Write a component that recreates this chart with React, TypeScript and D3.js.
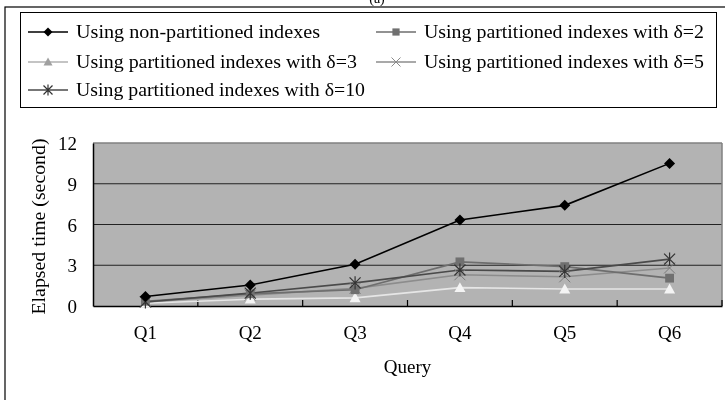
import { useEffect, useRef } from 'react';
import * as d3 from 'd3';

const queries = ['Q1', 'Q2', 'Q3', 'Q4', 'Q5', 'Q6'];
const yTicks = [0, 3, 6, 9, 12];

const nonPartitioned = [0.7, 1.55, 3.07, 6.33, 7.41, 10.5];
const delta2 = [0.35, 0.9, 1.2, 3.25, 2.9, 2.05];
const delta3 = [0.2, 0.5, 0.6, 1.35, 1.25, 1.25];
const delta5 = [0.3, 0.8, 1.3, 2.3, 2.15, 2.8];
const delta10 = [0.3, 0.95, 1.7, 2.65, 2.55, 3.45];

const seriesNames = [
  'Using non-partitioned indexes',
  'Using partitioned indexes with \u03b4=2',
  'Using partitioned indexes with \u03b4=3',
  'Using partitioned indexes with \u03b4=5',
  'Using partitioned indexes with \u03b4=10',
];

type Marker = 'diamond' | 'square' | 'triangle' | 'cross' | 'star';

interface Series {
  name: string;
  values: number[];
  line: string;
  marker: Marker;
  fill: string;
  legendFill: string;
}

const series: Series[] = [
  { name: seriesNames[0], values: nonPartitioned, line: '#000', marker: 'diamond', fill: '#000', legendFill: '#000' },
  { name: seriesNames[1], values: delta2, line: '#6e6e6e', marker: 'square', fill: '#707070', legendFill: '#707070' },
  { name: seriesNames[2], values: delta3, line: '#e6e6e6', marker: 'triangle', fill: '#f4f4f4', legendFill: '#a0a0a0' },
  { name: seriesNames[3], values: delta5, line: '#8c8c8c', marker: 'cross', fill: '#7a7a7a', legendFill: '#8a8a8a' },
  { name: seriesNames[4], values: delta10, line: '#4a4a4a', marker: 'star', fill: '#333', legendFill: '#333' },
];

const FONT = '"Liberation Serif", "Times New Roman", serif';

function drawMarker(
  g: d3.Selection<SVGGElement, unknown, null, undefined>,
  kind: Marker,
  x: number,
  y: number,
  fill: string,
  scale = 1
) {
  const s = 5 * scale;
  if (kind === 'diamond') {
    g.append('path')
      .attr('d', `M${x},${y - s}L${x + s},${y}L${x},${y + s}L${x - s},${y}Z`)
      .attr('fill', fill);
  } else if (kind === 'square') {
    const h = 4 * scale;
    g.append('rect')
      .attr('x', x - h).attr('y', y - h)
      .attr('width', 2 * h).attr('height', 2 * h)
      .attr('fill', fill);
  } else if (kind === 'triangle') {
    g.append('path')
      .attr('d', `M${x},${y - s}L${x + s},${y + s * 0.8}L${x - s},${y + s * 0.8}Z`)
      .attr('fill', fill);
  } else if (kind === 'cross') {
    g.append('path')
      .attr('d', `M${x - s},${y - s}L${x + s},${y + s}M${x - s},${y + s}L${x + s},${y - s}`)
      .attr('stroke', fill).attr('stroke-width', 1);
  } else {
    g.append('path')
      .attr('d', `M${x - s},${y - s}L${x + s},${y + s}M${x - s},${y + s}L${x + s},${y - s}M${x},${y - s * 1.2}L${x},${y + s * 1.2}`)
      .attr('stroke', fill).attr('stroke-width', 1.2);
  }
}

export default function App() {
  const svgRef = useRef<SVGSVGElement>(null);

  useEffect(() => {
    if (!svgRef.current) return;
    const svg = d3.select(svgRef.current);
    svg.selectAll('*').remove();

    const left = 93, right = 722, top = 143, bottom = 306;

    // outer frame
    svg.append('rect')
      .attr('x', 5).attr('y', 7).attr('width', 740).attr('height', 420)
      .attr('fill', '#fff').attr('stroke', '#000').attr('stroke-width', 1.2);

    // caption, mostly above the frame as in the source
    svg.append('text')
      .attr('x', 377).attr('y', 3)
      .attr('text-anchor', 'middle')
      .attr('font-family', FONT).attr('font-size', 14)
      .text('(a)');

    // legend
    const legend = svg.append('g');
    legend.append('rect')
      .attr('x', 20.5).attr('y', 12.5).attr('width', 696).attr('height', 95)
      .attr('fill', '#fff').attr('stroke', '#000').attr('stroke-width', 1);

    const legendPos = [
      { x: 28, y: 32, w: 244 },
      { x: 376, y: 32, w: 280 },
      { x: 28, y: 62, w: 281 },
      { x: 376, y: 62, w: 280 },
      { x: 28, y: 90, w: 289 },
    ];

    series.forEach((s, i) => {
      const p = legendPos[i];
      const lg = legend.append('g');
      lg.append('line')
        .attr('x1', p.x).attr('x2', p.x + 40)
        .attr('y1', p.y).attr('y2', p.y)
        .attr('stroke', i === 2 ? '#b0b0b0' : s.line).attr('stroke-width', 1.3);
      drawMarker(lg, s.marker, p.x + 20, p.y, s.legendFill, 0.9);
      lg.append('text')
        .attr('x', p.x + 48).attr('y', p.y + 6)
        .attr('font-family', FONT).attr('font-size', 19)
        .attr('textLength', p.w).attr('lengthAdjust', 'spacingAndGlyphs')
        .text(s.name);
    });

    // scales
    const x = d3.scaleBand<string>().domain(queries).range([left, right]);
    const y = d3.scaleLinear().domain([0, 12]).range([bottom, top]);

    // plot background
    svg.append('rect')
      .attr('x', left).attr('y', top)
      .attr('width', right - left).attr('height', bottom - top)
      .attr('fill', '#b3b3b3');

    // gridlines
    yTicks.filter(t => t > 0 && t < 12).forEach(t => {
      svg.append('line')
        .attr('x1', left).attr('x2', right)
        .attr('y1', y(t)).attr('y2', y(t))
        .attr('stroke', '#222').attr('stroke-width', 1.2);
    });
    svg.append('line')
      .attr('x1', left).attr('x2', right)
      .attr('y1', y(12)).attr('y2', y(12))
      .attr('stroke', '#808080').attr('stroke-width', 1.5);
    svg.append('line')
      .attr('x1', right).attr('x2', right)
      .attr('y1', top).attr('y2', bottom)
      .attr('stroke', '#808080').attr('stroke-width', 1.5);

    // y axis
    const yAxis = d3.axisLeft(y).tickValues(yTicks).tickSize(0).tickPadding(16);
    const yg = svg.append('g').attr('transform', `translate(${left},0)`).call(yAxis);
    yg.select('.domain').attr('stroke', '#000').attr('stroke-width', 1.5);
    yg.selectAll('text')
      .attr('font-family', FONT).attr('font-size', 19).attr('fill', '#000')
      .attr('dy', '0.35em');

    // x axis
    const xAxis = d3.axisBottom(x).tickSize(0).tickPadding(20);
    const xg = svg.append('g').attr('transform', `translate(0,${bottom})`).call(xAxis);
    xg.select('.domain').attr('stroke', '#000').attr('stroke-width', 1.5);
    xg.selectAll('text')
      .attr('font-family', FONT).attr('font-size', 19).attr('fill', '#000');

    // inside ticks at category boundaries
    queries.forEach(q => {
      const bx = (x(q) ?? 0) + x.bandwidth();
      svg.append('line')
        .attr('x1', bx).attr('x2', bx)
        .attr('y1', bottom).attr('y2', bottom - 6)
        .attr('stroke', '#000').attr('stroke-width', 1.2);
    });

    // axis titles
    svg.append('text')
      .attr('transform', `translate(45,${(top + bottom) / 2 + 2}) rotate(-90)`)
      .attr('text-anchor', 'middle')
      .attr('font-family', FONT).attr('font-size', 19)
      .attr('textLength', 176).attr('lengthAdjust', 'spacingAndGlyphs')
      .text('Elapsed time (second)');
    svg.append('text')
      .attr('x', (left + right) / 2).attr('y', 373)
      .attr('text-anchor', 'middle')
      .attr('font-family', FONT).attr('font-size', 19)
      .text('Query');

    // series
    const cx = (q: string) => (x(q) ?? 0) + x.bandwidth() / 2;
    const line = d3.line<number>()
      .x((_, i) => cx(queries[i]))
      .y(d => y(d));

    const order = [2, 3, 1, 4, 0];
    order.forEach(idx => {
      const s = series[idx];
      svg.append('path')
        .datum(s.values)
        .attr('fill', 'none')
        .attr('stroke', s.line)
        .attr('stroke-width', 1.6)
        .attr('d', line);
    });
    order.forEach(idx => {
      const s = series[idx];
      const mg = svg.append('g');
      s.values.forEach((v, i) => drawMarker(mg, s.marker, cx(queries[i]), y(v), s.fill, 1.1));
    });
  }, []);

  return (
    <div style={{ position: 'fixed', left: 0, top: 0 }}>
      <svg ref={svgRef} width={725} height={400} style={{ display: 'block' }} />
    </div>
  );
}
